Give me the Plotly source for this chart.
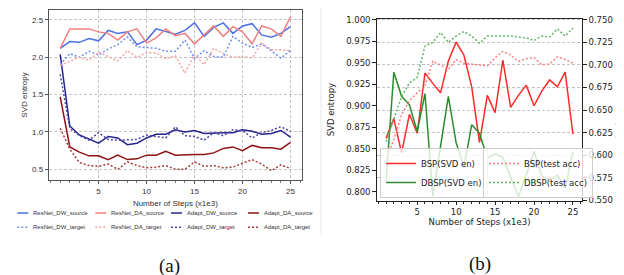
import plotly.graph_objects as go

# ---------------- data ----------------
steps = list(range(1, 26))

resnet_dw_source = [2.12, 2.21, 2.20, 2.25, 2.22, 2.36, 2.32, 2.34, 2.17, 2.23, 2.38, 2.34, 2.31,
                    2.36, 2.46, 2.28, 2.40, 2.46, 2.32, 2.42, 2.45, 2.30, 2.27, 2.32, 2.41]
resnet_da_source = [2.12, 2.38, 2.38, 2.38, 2.34, 2.32, 2.23, 2.34, 2.38, 2.19, 2.26, 2.38, 2.29,
                    2.32, 2.18, 2.30, 2.42, 2.28, 2.41, 2.34, 2.18, 2.42, 2.38, 2.28, 2.54]
adapt_dw_source = [2.04, 1.08, 0.96, 0.91, 0.85, 0.94, 0.92, 0.83, 0.85, 0.92, 0.97, 0.97, 1.03,
                   1.00, 1.02, 0.98, 0.99, 0.99, 0.99, 1.03, 1.01, 0.97, 0.98, 1.02, 0.93]
adapt_da_source = [1.47, 0.80, 0.73, 0.68, 0.68, 0.63, 0.69, 0.63, 0.64, 0.69, 0.69, 0.74, 0.69,
                   0.70, 0.70, 0.70, 0.72, 0.78, 0.80, 0.75, 0.82, 0.79, 0.79, 0.77, 0.86]
resnet_dw_target = [1.90, 2.05, 2.00, 2.08, 2.03, 2.11, 2.17, 2.27, 2.14, 2.13, 2.12, 2.08, 2.08,
                    2.23, 1.98, 2.09, 2.01, 2.00, 2.28, 2.19, 2.13, 2.18, 2.08, 1.99, 2.09]
resnet_da_target = [1.89, 1.95, 2.00, 1.96, 2.07, 2.01, 1.95, 2.09, 2.00, 2.06, 2.06, 1.98, 2.02,
                    1.79, 2.04, 1.90, 2.12, 2.05, 2.00, 2.01, 1.99, 2.19, 2.10, 2.10, 2.09]
adapt_dw_target = [1.77, 1.05, 0.95, 0.89, 0.99, 0.90, 0.89, 0.89, 0.90, 0.96, 0.94, 0.92, 1.07,
                   0.95, 0.94, 0.89, 0.99, 0.95, 1.03, 1.02, 0.92, 0.99, 1.02, 1.07, 1.01]
adapt_da_target = [1.05, 0.77, 0.59, 0.55, 0.54, 0.57, 0.50, 0.60, 0.55, 0.52, 0.53, 0.55, 0.50,
                   0.50, 0.60, 0.54, 0.55, 0.52, 0.53, 0.58, 0.63, 0.57, 0.48, 0.56, 0.51]

bsp_svd = [0.862, 0.885, 0.845, 0.890, 0.868, 0.938, 0.926, 0.915, 0.952, 0.974, 0.959, 0.922, 0.857,
           0.912, 0.892, 0.953, 0.898, 0.912, 0.924, 0.900, 0.917, 0.930, 0.922, 0.939, 0.867]
dbsp_svd = [0.813, 0.939, 0.911, 0.901, 0.870, 0.914, 0.795, 0.855, 0.911, 0.857, 0.828, 0.878, 0.868,
            0.839, 0.844, 0.840, 0.818, 0.794, 0.819, 0.847, 0.818, 0.814, 0.819, 0.804, 0.847]
bsp_acc = [0.596, 0.617, 0.645, 0.660, 0.669, 0.677, 0.704, 0.700, 0.695, 0.706, 0.702, 0.701, 0.700,
           0.699, 0.708, 0.715, 0.711, 0.704, 0.707, 0.708, 0.700, 0.701, 0.709, 0.706, 0.702]
dbsp_acc = [0.615, 0.641, 0.665, 0.680, 0.686, 0.721, 0.725, 0.736, 0.725, 0.732, 0.737, 0.732, 0.724,
            0.732, 0.732, 0.732, 0.732, 0.731, 0.730, 0.727, 0.732, 0.731, 0.740, 0.732, 0.741]

left_series = [
    ("ResNet_DW_source", resnet_dw_source, "#4a70e4", "solid"),
    ("ResNet_DA_source", resnet_da_source, "#f08080", "solid"),
    ("Adapt_DW_source", adapt_dw_source, "#24248c", "solid"),
    ("Adapt_DA_source", adapt_da_source, "#8e1212", "solid"),
    ("ResNet_DW_target", resnet_dw_target, "#6f8ff0", "2px,2px"),
    ("ResNet_DA_target", resnet_da_target, "#f5a3a3", "2px,2px"),
    ("Adapt_DW_target", adapt_dw_target, "#4a4aac", "2px,2px"),
    ("Adapt_DA_target", adapt_da_target, "#a53c3c", "2px,2px"),
]

fig = go.Figure()

# ---- left panel ----
for name, vals, col, dash in left_series:
    fig.add_trace(go.Scatter(x=steps, y=vals, mode="lines", name=name,
                             line=dict(color=col, width=1.5, dash=dash),
                             xaxis="x", yaxis="y", showlegend=False))

# ---- right panel ----
fig.add_trace(go.Scatter(x=steps, y=bsp_svd, mode="lines", name="BSP(SVD en)",
                         line=dict(color="#ff2a2a", width=1.5), xaxis="x2", yaxis="y2", legend="legend2"))
fig.add_trace(go.Scatter(x=steps, y=dbsp_svd, mode="lines", name="DBSP(SVD en)",
                         line=dict(color="#2a8c2a", width=1.5), xaxis="x2", yaxis="y2", legend="legend2"))
fig.add_trace(go.Scatter(x=steps, y=bsp_acc, mode="lines", name="BSP(test acc)",
                         line=dict(color="#ff8080", width=1.5, dash="2px,2px"), xaxis="x2", yaxis="y3", legend="legend3"))
fig.add_trace(go.Scatter(x=steps, y=dbsp_acc, mode="lines", name="DBSP(test acc)",
                         line=dict(color="#66b366", width=1.5, dash="2px,2px"), xaxis="x2", yaxis="y3", legend="legend3"))

W, H = 624, 275
lf = dict(family="Liberation Sans, Arial, sans-serif", size=8, color="#333")
rf = dict(family="DejaVu Sans, sans-serif", size=8.5, color="#222")
gdash = "3px,2px"

fig.update_layout(
    width=W, height=H, autosize=False,
    margin=dict(l=0, r=0, t=0, b=0, autoexpand=False),
    paper_bgcolor="white", plot_bgcolor="white",
    showlegend=True,
    xaxis=dict(domain=[40.7 / W, 294 / W], anchor="y", range=[-0.2, 26.2], automargin=False,
               tickvals=[5, 10, 15, 20, 25], showgrid=True, gridcolor="#c4c4c4", griddash=gdash,
               gridwidth=0.8, zeroline=False, showline=True, mirror=True, linecolor="#555",
               ticks="outside", ticklen=3, tickcolor="#555", tickfont=lf,
               minor=dict(dtick=1, tick0=0, ticks="outside", ticklen=1.5, tickcolor="#777", showgrid=False),
               title=dict(text="Number of Steps (x1e3)", font=lf, standoff=5)),
    yaxis=dict(domain=[1 - 172 / H, 1 - 2 / H], anchor="x", range=[0.357, 2.633], automargin=False,
               tickvals=[0.5, 1.0, 1.5, 2.0, 2.5], tickformat=".1f", showgrid=True, gridcolor="#c4c4c4",
               griddash=gdash, gridwidth=0.8, zeroline=False, showline=True, mirror=True, linecolor="#555",
               ticks="outside", ticklen=3, tickcolor="#555", tickfont=lf,
               title=dict(text="SVD entropy", font=lf, standoff=3)),
    xaxis2=dict(domain=[368.7 / W, 574.3 / W], anchor="y2", range=[-0.2, 26.2], automargin=False,
                tickvals=[5, 10, 15, 20, 25], showgrid=False, zeroline=False, showline=True, mirror=True,
                linecolor="#222", ticks="outside", ticklen=3.5, tickcolor="#222", tickfont=rf,
                minor=dict(dtick=1, tick0=0, ticks="outside", ticklen=2, tickcolor="#222", showgrid=False),
                title=dict(text="Number of Steps (x1e3)", font=rf, standoff=2)),
    yaxis2=dict(domain=[1 - 192.7 / H, 1 - 10.5 / H], anchor="x2", range=[0.7895, 1.0015], automargin=False,
                tick0=0.8, dtick=0.025, tickformat=".3f", showgrid=False, zeroline=False, showline=True,
                linecolor="#222", ticks="outside", ticklen=3.5, tickcolor="#222", tickfont=rf,
                title=dict(text="SVD entropy", font=rf, standoff=10)),
    yaxis3=dict(overlaying="y2", anchor="x2", side="right", range=[0.5495, 0.7515], automargin=False,
                tick0=0.55, dtick=0.025, tickformat=".3f", showgrid=True, gridcolor="#c4c4c4",
                griddash=gdash, gridwidth=0.8, zeroline=False, showline=True, linecolor="#222",
                ticks="outside", ticklen=3.5, tickcolor="#222", tickfont=rf,
                title=dict(text="test accuracy", font=rf, standoff=4)),
    legend2=dict(x=372 / W, y=1 - 190 / H, xanchor="left", yanchor="bottom", font=rf,
                 bgcolor="rgba(255,255,255,0.8)", bordercolor="#cccccc", borderwidth=1,
                 itemwidth=30, tracegroupgap=0),
    legend3=dict(x=475 / W, y=1 - 190 / H, xanchor="left", yanchor="bottom", font=rf,
                 bgcolor="rgba(255,255,255,0.8)", bordercolor="#cccccc", borderwidth=1,
                 itemwidth=30, tracegroupgap=0),
)

# ---- manual legend for left panel (4 columns x 2 rows, below the plot) ----
col_x = [9.3, 87.3, 163.0, 240.0]
row_y = [205.0, 219.3]
for i, (name, vals, col, dash) in enumerate(left_series):
    r, c = divmod(i, 4)
    x0 = col_x[c]
    y0 = row_y[r]
    fig.add_shape(type="line", xref="paper", yref="paper",
                  x0=x0 / W, x1=(x0 + 11) / W, y0=1 - y0 / H, y1=1 - y0 / H,
                  line=dict(color=col, width=1.5, dash=dash))
    fig.add_annotation(x=(x0 + 14) / W, y=1 - y0 / H, xref="paper", yref="paper",
                       text=name, showarrow=False, xanchor="left", yanchor="middle",
                       font=dict(family="Liberation Sans, Arial, sans-serif", size=6, color="#333"))

# faint border of subfigure (b)
fig.add_shape(type="line", xref="paper", yref="paper", x0=313 / W, x1=313 / W,
              y0=1 - 227 / H, y1=1.0, line=dict(color="#e6e6e6", width=1))

# sub-figure labels
for txt, xc, yc in [("(a)", 161, 258), ("(b)", 472, 256)]:
    fig.add_annotation(x=xc / W, y=1 - yc / H, xref="paper", yref="paper", text=txt,
                       showarrow=False, xanchor="center", yanchor="middle",
                       font=dict(family="Liberation Serif, Times New Roman, serif", size=19, color="#111"))

fig.write_html("out.html")
